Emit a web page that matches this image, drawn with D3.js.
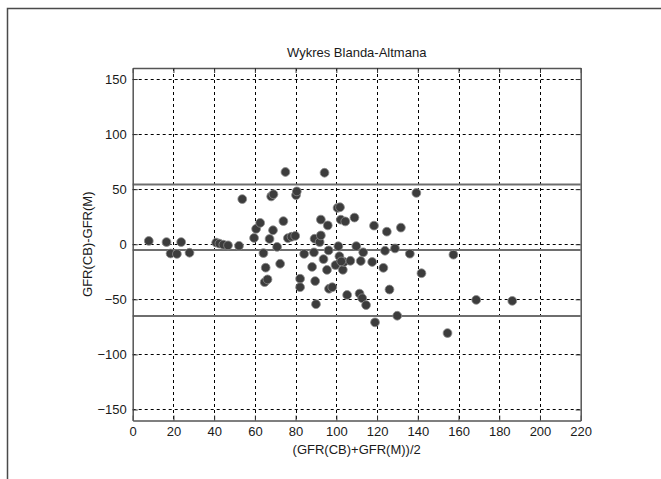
<!DOCTYPE html>
<html>
<head>
<meta charset="utf-8">
<script src="https://cdn.jsdelivr.net/npm/d3@7"></script>
<style>
  body { margin: 0; background: #fff; }
  text { font-family: "Liberation Sans Narrow", "Arial Narrow", "Liberation Sans", sans-serif; fill: #1a1a1a; }
</style>
</head>
<body>
<script>
// Bland-Altman points: mean of the two GFR methods vs their difference
const meanGfr = [
    7.9, 16.6, 18.6, 21.7, 23.8, 27.9, 41.0, 42.6, 44.5, 46.8, 52.2,
    53.8, 59.6, 60.6, 62.6, 64.2, 65.3, 64.8, 66.2, 67.2, 68.0, 69.1,
    68.9, 70.9, 72.4, 74.0, 75.0, 76.2, 78.0, 79.8, 80.2, 80.6, 82.2,
    82.2, 84.2, 88.1, 89.0, 89.3, 89.6, 90.0, 91.8, 92.4, 92.4, 93.7,
    94.2, 95.4, 95.8, 96.2, 96.4, 98.0, 99.6, 100.6, 101.8, 101.0, 101.5,
    102.2, 103.2, 103.8, 104.4, 105.3, 106.9, 108.9, 109.8, 111.4, 112.0,
    112.7, 113.2, 114.6, 117.6, 118.5, 119.0, 123.1, 123.9, 124.8, 126.1,
    128.8, 129.9, 131.7, 136.1, 139.3, 141.8, 154.6, 157.5, 168.7, 186.4, 102.4
];
const diffGfr = [
    3.0, 2.0, -8.4, -8.8, 2.0, -7.7, 1.5, 0.6, -0.4, -1.0, -1.4,
    41.0, 5.7, 14.0, 19.4, -8.0, -21.3, -34.4, -31.9, 4.8, 43.4, 45.4,
    12.7, -2.4, -17.7, 21.0, 65.6, 5.6, 6.8, 7.6, 44.6, 48.0, -31.3,
    -39.0, -8.8, -20.6, -7.4, 5.0, -33.4, -54.4, 2.0, 8.0, 22.4, -13.5,
    64.9, -23.3, 17.1, -5.6, -40.4, -39.0, -18.9, 33.0, 33.6, -1.8, -10.9,
    22.3, -23.2, -16.1, 20.7, -46.0, -15.0, 24.2, -1.7, -44.8, -15.2,
    -49.0, -7.3, -55.2, -16.1, 16.9, -70.9, -21.4, -5.9, 11.4, -41.1,
    -3.8, -64.9, 15.1, -8.6, 46.6, -26.3, -80.6, -9.5, -50.5, -51.4, -15.6
];
const meanDiff = -5.3;
const upperLimit = 54.3;
const lowerLimit = -65.2;

const xTicks = [0, 20, 40, 60, 80, 100, 120, 140, 160, 180, 200, 220];
const yTicks = [-150, -100, -50, 0, 50, 100, 150];

const W = 661, H = 479;
const mLeft = 132.7, mRight = 580.7, mTop = 68, mBottom = 420.5;

const svg = d3.select("body")
    .append("svg")
    .attr("width", W)
    .attr("height", H);

// window frame (left and top edges only)
svg.append("path")
    .attr("d", `M7.5,${H} L7.5,8.5 L${W},8.5`)
    .attr("fill", "none")
    .attr("stroke", "#4a4a4a")
    .attr("stroke-width", 1.5);

const x = d3.scaleLinear().domain([0, 220]).range([mLeft, mRight]);
const y = d3.scaleLinear().domain([-160, 160]).range([mBottom, mTop]);

// dashed grid
const grid = svg.append("g");
grid.selectAll(".gx")
    .data(xTicks.slice(1, -1))
    .enter()
    .append("line")
    .attr("x1", d => Math.round(x(d)) + 0.5)
    .attr("x2", d => Math.round(x(d)) + 0.5)
    .attr("y1", mTop)
    .attr("y2", mBottom)
    .attr("stroke", "#000")
    .attr("stroke-dasharray", "3,3");
grid.selectAll(".gy")
    .data(yTicks)
    .enter()
    .append("line")
    .attr("x1", mLeft)
    .attr("x2", mRight)
    .attr("y1", d => Math.round(y(d)) + 0.5)
    .attr("y2", d => Math.round(y(d)) + 0.5)
    .attr("stroke", "#000")
    .attr("stroke-dasharray", "3,3");

// mean and limits of agreement
svg.selectAll(".loa")
    .data([upperLimit, meanDiff, lowerLimit])
    .enter()
    .append("line")
    .attr("x1", mLeft)
    .attr("x2", mRight)
    .attr("y1", d => y(d))
    .attr("y2", d => y(d))
    .attr("stroke", "#6e6e6e")
    .attr("stroke-width", 2);

// points
svg.selectAll("circle")
    .data(meanGfr.map((m, i) => [m, diffGfr[i]]))
    .enter()
    .append("circle")
    .attr("cx", d => x(d[0]))
    .attr("cy", d => y(d[1]))
    .attr("r", 4.4)
    .attr("fill", "#3c3c3c")
    .attr("stroke", "#8c8c8c")
    .attr("stroke-width", 0.8);

// axes box with inward ticks on all sides
const tick = 5;
const axisBottom = d3.axisBottom(x).tickValues(xTicks).tickSizeInner(-tick).tickSizeOuter(0).tickPadding(6);
const axisTop = d3.axisTop(x).tickValues(xTicks).tickSizeInner(-tick).tickSizeOuter(0).tickFormat("");
const axisLeft = d3.axisLeft(y).tickValues(yTicks).tickSizeInner(-tick).tickSizeOuter(0).tickPadding(6);
const axisRight = d3.axisRight(y).tickValues(yTicks).tickSizeInner(-tick).tickSizeOuter(0).tickFormat("");

[[axisBottom, `translate(0,${mBottom})`], [axisTop, `translate(0,${mTop})`],
 [axisLeft, `translate(${mLeft},0)`], [axisRight, `translate(${mRight},0)`]].forEach(([ax, tr]) => {
    const g = svg.append("g").attr("transform", tr).call(ax);
    g.select(".domain").attr("stroke", "#555").attr("stroke-width", 1.5);
    g.selectAll(".tick line").attr("stroke", "#333");
    g.selectAll(".tick text").style("font-size", "13px").attr("fill", "#1a1a1a");
});

// labels
svg.append("text")
    .attr("x", (mLeft + mRight) / 2)
    .attr("y", 57)
    .attr("text-anchor", "middle")
    .style("font-size", "13px")
    .text("Wykres Blanda-Altmana");

svg.append("text")
    .attr("x", (mLeft + mRight) / 2)
    .attr("y", 454)
    .attr("text-anchor", "middle")
    .style("font-size", "13px")
    .text("(GFR(CB)+GFR(M))/2");

svg.append("text")
    .attr("transform", `translate(92,${(mTop + mBottom) / 2}) rotate(-90)`)
    .attr("text-anchor", "middle")
    .style("font-size", "13px")
    .text("GFR(CB)-GFR(M)");
</script>
</body>
</html>
